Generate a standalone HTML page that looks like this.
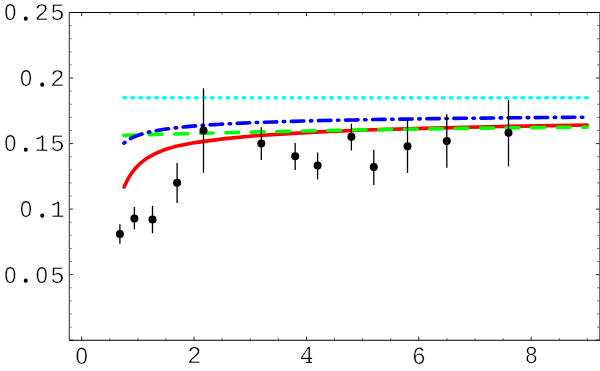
<!DOCTYPE html>
<html><head><meta charset="utf-8"><title>plot</title>
<style>html,body{margin:0;padding:0;background:#fff;}body{width:600px;height:371px;overflow:hidden;}svg{display:block;}text{font-family:"Liberation Mono",monospace;fill:#000;}</style>
</head><body>
<svg width="600" height="371" viewBox="0 0 600 371">
<rect x="0" y="0" width="600" height="371" fill="#ffffff"/>
<g fill="none" stroke-width="3.6" stroke-linecap="round" stroke-linejoin="round">
<path d="M124.1 187.01 L125.6 183.62 L127.1 180.59 L128.6 177.86 L130.1 175.41 L131.6 173.17 L133.1 171.14 L134.6 169.27 L136.1 167.56 L137.6 165.98 L139.1 164.51 L140.6 163.16 L142.1 161.89 L143.6 160.71 L145.1 159.60 L146.6 158.57 L148.1 157.59 L149.6 156.68 L151.1 155.81 L154.1 154.22 L157.1 152.79 L160.1 151.50 L163.1 150.32 L166.1 149.25 L169.1 148.26 L172.1 147.36 L175.1 146.52 L176.0 146.28 L195.0 142.60 L225.0 138.60 L255.0 135.70 L285.0 133.90 L320.0 131.90 L365.0 130.00 L422.7 128.40 L500.0 126.50 L587.1 125.00" stroke="#ff0000"/>
<path d="M123.8 135.31 L143.8 134.76 L163.8 134.22 L183.8 133.70 L203.8 133.20 L223.8 132.72 L243.8 132.26 L263.9 131.81 L283.9 131.39 L303.9 130.98 L323.9 130.59 L343.9 130.22 L363.9 129.87 L383.9 129.53 L403.9 129.21 L423.9 128.92 L443.9 128.64 L463.9 128.37 L483.9 128.13 L503.9 127.91 L523.9 127.70 L543.9 127.51 L563.9 127.34 L583.9 127.19 L587.1 127.17" stroke="#00ff00" stroke-dasharray="12.8 12.7"/>
<path d="M123.9 143.22 L125.4 141.97 L126.9 140.87 L128.4 139.89 L129.9 139.00 L131.4 138.19 L132.9 137.46 L134.4 136.78 L135.9 136.16 L137.4 135.58 L138.9 135.04 L140.4 134.53 L141.9 134.06 L143.4 133.62 L144.9 133.20 L146.4 132.81 L147.9 132.43 L149.4 132.08 L150.9 131.74 L153.9 131.12 L156.9 130.54 L159.9 130.02 L162.9 129.54 L165.9 129.09 L168.9 128.67 L171.9 128.28 L174.9 127.92 L177.9 127.58 L180.9 127.25 L183.9 126.95 L186.9 126.66 L189.9 126.39 L192.9 126.13 L195.9 125.88 L198.9 125.65 L201.9 125.42 L204.9 125.21 L207.9 125.00 L210.9 124.80 L213.9 124.61 L216.9 124.43 L219.9 124.26 L222.9 124.09 L232.9 123.57 L242.9 123.10 L252.9 122.68 L262.9 122.30 L272.9 121.95 L282.9 121.63 L292.9 121.33 L302.9 121.06 L312.9 120.80 L322.9 120.57 L332.9 120.34 L342.9 120.13 L352.9 119.93 L362.9 119.75 L372.9 119.57 L382.9 119.40 L392.9 119.24 L402.9 119.09 L412.9 118.95 L422.9 118.81 L432.9 118.67 L442.9 118.55 L452.9 118.43 L462.9 118.31 L472.9 118.20 L482.9 118.09 L492.9 117.98 L502.9 117.88 L512.9 117.79 L522.9 117.69 L532.9 117.60 L542.9 117.51 L552.9 117.43 L562.9 117.35 L572.9 117.27 L582.9 117.19 L587.1 117.16" stroke="#0000ff" stroke-dasharray="1.4 6.6 12.5 6.6"/>
<path d="M123.9 97.8 L587.1 97.8" stroke="#00ffff" stroke-dasharray="1.4 6.56"/>
</g>
<g stroke="#000" stroke-width="1.3" fill="#000">
<line x1="119.9" y1="224.3" x2="119.9" y2="243.7"/>
<line x1="134.4" y1="207.0" x2="134.4" y2="229.3"/>
<line x1="152.5" y1="205.8" x2="152.5" y2="233.3"/>
<line x1="177.1" y1="162.9" x2="177.1" y2="202.9"/>
<line x1="203.5" y1="88.3" x2="203.5" y2="172.7"/>
<line x1="261.3" y1="127.3" x2="261.3" y2="160.0"/>
<line x1="295.2" y1="143.0" x2="295.2" y2="169.9"/>
<line x1="317.6" y1="152.5" x2="317.6" y2="179.4"/>
<line x1="351.4" y1="123.7" x2="351.4" y2="150.5"/>
<line x1="373.8" y1="149.7" x2="373.8" y2="184.9"/>
<line x1="407.5" y1="119.0" x2="407.5" y2="172.9"/>
<line x1="446.8" y1="114.2" x2="446.8" y2="167.7"/>
<line x1="508.5" y1="100.0" x2="508.5" y2="166.3"/>
</g>
<g fill="#000">
<circle cx="119.9" cy="233.9" r="4.0"/>
<circle cx="134.4" cy="218.6" r="4.0"/>
<circle cx="152.5" cy="219.6" r="4.0"/>
<circle cx="177.1" cy="182.8" r="4.0"/>
<circle cx="203.5" cy="130.6" r="4.0"/>
<circle cx="261.3" cy="143.4" r="4.0"/>
<circle cx="295.2" cy="156.3" r="4.0"/>
<circle cx="317.6" cy="165.6" r="4.0"/>
<circle cx="351.4" cy="136.8" r="4.0"/>
<circle cx="373.8" cy="166.9" r="4.0"/>
<circle cx="407.5" cy="146.2" r="4.0"/>
<circle cx="446.8" cy="140.9" r="4.0"/>
<circle cx="508.5" cy="132.8" r="4.0"/>
</g>
<g stroke="#000" stroke-width="0.75" fill="none">
<line x1="81.70" y1="340.20" x2="81.70" y2="336.60" stroke-width="0.85"/>
<line x1="81.70" y1="12.50" x2="81.70" y2="16.10" stroke-width="0.85"/>
<line x1="109.79" y1="340.20" x2="109.79" y2="337.90" stroke-width="0.55"/>
<line x1="109.79" y1="12.50" x2="109.79" y2="14.80" stroke-width="0.55"/>
<line x1="137.88" y1="340.20" x2="137.88" y2="337.90" stroke-width="0.55"/>
<line x1="137.88" y1="12.50" x2="137.88" y2="14.80" stroke-width="0.55"/>
<line x1="165.97" y1="340.20" x2="165.97" y2="337.90" stroke-width="0.55"/>
<line x1="165.97" y1="12.50" x2="165.97" y2="14.80" stroke-width="0.55"/>
<line x1="194.06" y1="340.20" x2="194.06" y2="336.60" stroke-width="0.85"/>
<line x1="194.06" y1="12.50" x2="194.06" y2="16.10" stroke-width="0.85"/>
<line x1="222.15" y1="340.20" x2="222.15" y2="337.90" stroke-width="0.55"/>
<line x1="222.15" y1="12.50" x2="222.15" y2="14.80" stroke-width="0.55"/>
<line x1="250.24" y1="340.20" x2="250.24" y2="337.90" stroke-width="0.55"/>
<line x1="250.24" y1="12.50" x2="250.24" y2="14.80" stroke-width="0.55"/>
<line x1="278.33" y1="340.20" x2="278.33" y2="337.90" stroke-width="0.55"/>
<line x1="278.33" y1="12.50" x2="278.33" y2="14.80" stroke-width="0.55"/>
<line x1="306.42" y1="340.20" x2="306.42" y2="336.60" stroke-width="0.85"/>
<line x1="306.42" y1="12.50" x2="306.42" y2="16.10" stroke-width="0.85"/>
<line x1="334.51" y1="340.20" x2="334.51" y2="337.90" stroke-width="0.55"/>
<line x1="334.51" y1="12.50" x2="334.51" y2="14.80" stroke-width="0.55"/>
<line x1="362.60" y1="340.20" x2="362.60" y2="337.90" stroke-width="0.55"/>
<line x1="362.60" y1="12.50" x2="362.60" y2="14.80" stroke-width="0.55"/>
<line x1="390.69" y1="340.20" x2="390.69" y2="337.90" stroke-width="0.55"/>
<line x1="390.69" y1="12.50" x2="390.69" y2="14.80" stroke-width="0.55"/>
<line x1="418.78" y1="340.20" x2="418.78" y2="336.60" stroke-width="0.85"/>
<line x1="418.78" y1="12.50" x2="418.78" y2="16.10" stroke-width="0.85"/>
<line x1="446.87" y1="340.20" x2="446.87" y2="337.90" stroke-width="0.55"/>
<line x1="446.87" y1="12.50" x2="446.87" y2="14.80" stroke-width="0.55"/>
<line x1="474.96" y1="340.20" x2="474.96" y2="337.90" stroke-width="0.55"/>
<line x1="474.96" y1="12.50" x2="474.96" y2="14.80" stroke-width="0.55"/>
<line x1="503.05" y1="340.20" x2="503.05" y2="337.90" stroke-width="0.55"/>
<line x1="503.05" y1="12.50" x2="503.05" y2="14.80" stroke-width="0.55"/>
<line x1="531.14" y1="340.20" x2="531.14" y2="336.60" stroke-width="0.85"/>
<line x1="531.14" y1="12.50" x2="531.14" y2="16.10" stroke-width="0.85"/>
<line x1="559.23" y1="340.20" x2="559.23" y2="337.90" stroke-width="0.55"/>
<line x1="559.23" y1="12.50" x2="559.23" y2="14.80" stroke-width="0.55"/>
<line x1="587.32" y1="340.20" x2="587.32" y2="337.90" stroke-width="0.55"/>
<line x1="587.32" y1="12.50" x2="587.32" y2="14.80" stroke-width="0.55"/>
<line x1="69.40" y1="340.20" x2="73.00" y2="340.20" stroke-width="0.85"/>
<line x1="599.45" y1="340.20" x2="595.85" y2="340.20" stroke-width="0.85"/>
<line x1="69.40" y1="327.09" x2="71.70" y2="327.09" stroke-width="0.55"/>
<line x1="599.45" y1="327.09" x2="597.15" y2="327.09" stroke-width="0.55"/>
<line x1="69.40" y1="313.98" x2="71.70" y2="313.98" stroke-width="0.55"/>
<line x1="599.45" y1="313.98" x2="597.15" y2="313.98" stroke-width="0.55"/>
<line x1="69.40" y1="300.88" x2="71.70" y2="300.88" stroke-width="0.55"/>
<line x1="599.45" y1="300.88" x2="597.15" y2="300.88" stroke-width="0.55"/>
<line x1="69.40" y1="287.77" x2="71.70" y2="287.77" stroke-width="0.55"/>
<line x1="599.45" y1="287.77" x2="597.15" y2="287.77" stroke-width="0.55"/>
<line x1="69.40" y1="274.66" x2="73.00" y2="274.66" stroke-width="0.85"/>
<line x1="599.45" y1="274.66" x2="595.85" y2="274.66" stroke-width="0.85"/>
<line x1="69.40" y1="261.55" x2="71.70" y2="261.55" stroke-width="0.55"/>
<line x1="599.45" y1="261.55" x2="597.15" y2="261.55" stroke-width="0.55"/>
<line x1="69.40" y1="248.44" x2="71.70" y2="248.44" stroke-width="0.55"/>
<line x1="599.45" y1="248.44" x2="597.15" y2="248.44" stroke-width="0.55"/>
<line x1="69.40" y1="235.34" x2="71.70" y2="235.34" stroke-width="0.55"/>
<line x1="599.45" y1="235.34" x2="597.15" y2="235.34" stroke-width="0.55"/>
<line x1="69.40" y1="222.23" x2="71.70" y2="222.23" stroke-width="0.55"/>
<line x1="599.45" y1="222.23" x2="597.15" y2="222.23" stroke-width="0.55"/>
<line x1="69.40" y1="209.12" x2="73.00" y2="209.12" stroke-width="0.85"/>
<line x1="599.45" y1="209.12" x2="595.85" y2="209.12" stroke-width="0.85"/>
<line x1="69.40" y1="196.01" x2="71.70" y2="196.01" stroke-width="0.55"/>
<line x1="599.45" y1="196.01" x2="597.15" y2="196.01" stroke-width="0.55"/>
<line x1="69.40" y1="182.90" x2="71.70" y2="182.90" stroke-width="0.55"/>
<line x1="599.45" y1="182.90" x2="597.15" y2="182.90" stroke-width="0.55"/>
<line x1="69.40" y1="169.80" x2="71.70" y2="169.80" stroke-width="0.55"/>
<line x1="599.45" y1="169.80" x2="597.15" y2="169.80" stroke-width="0.55"/>
<line x1="69.40" y1="156.69" x2="71.70" y2="156.69" stroke-width="0.55"/>
<line x1="599.45" y1="156.69" x2="597.15" y2="156.69" stroke-width="0.55"/>
<line x1="69.40" y1="143.58" x2="73.00" y2="143.58" stroke-width="0.85"/>
<line x1="599.45" y1="143.58" x2="595.85" y2="143.58" stroke-width="0.85"/>
<line x1="69.40" y1="130.47" x2="71.70" y2="130.47" stroke-width="0.55"/>
<line x1="599.45" y1="130.47" x2="597.15" y2="130.47" stroke-width="0.55"/>
<line x1="69.40" y1="117.36" x2="71.70" y2="117.36" stroke-width="0.55"/>
<line x1="599.45" y1="117.36" x2="597.15" y2="117.36" stroke-width="0.55"/>
<line x1="69.40" y1="104.26" x2="71.70" y2="104.26" stroke-width="0.55"/>
<line x1="599.45" y1="104.26" x2="597.15" y2="104.26" stroke-width="0.55"/>
<line x1="69.40" y1="91.15" x2="71.70" y2="91.15" stroke-width="0.55"/>
<line x1="599.45" y1="91.15" x2="597.15" y2="91.15" stroke-width="0.55"/>
<line x1="69.40" y1="78.04" x2="73.00" y2="78.04" stroke-width="0.85"/>
<line x1="599.45" y1="78.04" x2="595.85" y2="78.04" stroke-width="0.85"/>
<line x1="69.40" y1="64.93" x2="71.70" y2="64.93" stroke-width="0.55"/>
<line x1="599.45" y1="64.93" x2="597.15" y2="64.93" stroke-width="0.55"/>
<line x1="69.40" y1="51.82" x2="71.70" y2="51.82" stroke-width="0.55"/>
<line x1="599.45" y1="51.82" x2="597.15" y2="51.82" stroke-width="0.55"/>
<line x1="69.40" y1="38.72" x2="71.70" y2="38.72" stroke-width="0.55"/>
<line x1="599.45" y1="38.72" x2="597.15" y2="38.72" stroke-width="0.55"/>
<line x1="69.40" y1="25.61" x2="71.70" y2="25.61" stroke-width="0.55"/>
<line x1="599.45" y1="25.61" x2="597.15" y2="25.61" stroke-width="0.55"/>
<line x1="69.40" y1="12.50" x2="73.00" y2="12.50" stroke-width="0.85"/>
<line x1="599.45" y1="12.50" x2="595.85" y2="12.50" stroke-width="0.85"/>
</g>
<g stroke="#000" fill="none">
<line x1="68.95" y1="12.50" x2="600.00" y2="12.50" stroke-width="1.1"/>
<line x1="68.95" y1="340.20" x2="600.00" y2="340.20" stroke-width="1.1"/>
<line x1="69.35" y1="12.50" x2="69.35" y2="340.20" stroke-width="1.2" stroke="#505050"/>
<line x1="599.45" y1="12.50" x2="599.45" y2="340.20" stroke-width="0.6"/>
</g>
<g stroke="#fff" stroke-width="0.50" text-anchor="middle" style="opacity:0.999;text-rendering:geometricPrecision">
<text transform="translate(10.20 20.20) scale(0.930 1.000)" font-size="23.3" stroke-width="0.4" style="font-family:'Liberation Sans',sans-serif">0</text>
<text x="25.75" y="18.80" font-size="5" stroke="#000" stroke-width="3.3" stroke-linejoin="round">.</text>
<text transform="translate(41.70 20.20) scale(1.000 1.000)" font-size="24.0">2</text>
<text transform="translate(57.45 20.20) scale(1.000 1.000)" font-size="24.0">5</text>
<text transform="translate(25.95 86.24) scale(0.930 1.000)" font-size="23.3" stroke-width="0.4" style="font-family:'Liberation Sans',sans-serif">0</text>
<text x="42.35" y="84.84" font-size="5" stroke="#000" stroke-width="3.3" stroke-linejoin="round">.</text>
<text transform="translate(57.45 86.24) scale(1.000 1.000)" font-size="24.0">2</text>
<text transform="translate(10.20 151.38) scale(0.930 1.000)" font-size="23.3" stroke-width="0.4" style="font-family:'Liberation Sans',sans-serif">0</text>
<text x="25.75" y="149.98" font-size="5" stroke="#000" stroke-width="3.3" stroke-linejoin="round">.</text>
<text transform="translate(41.70 151.38) scale(1.000 1.000)" font-size="24.0">1</text>
<text transform="translate(57.45 151.38) scale(1.000 1.000)" font-size="24.0">5</text>
<text transform="translate(25.95 217.32) scale(0.930 1.000)" font-size="23.3" stroke-width="0.4" style="font-family:'Liberation Sans',sans-serif">0</text>
<text x="42.35" y="215.92" font-size="5" stroke="#000" stroke-width="3.3" stroke-linejoin="round">.</text>
<text transform="translate(57.45 217.32) scale(1.000 1.000)" font-size="24.0">1</text>
<text transform="translate(10.20 282.76) scale(0.930 1.000)" font-size="23.3" stroke-width="0.4" style="font-family:'Liberation Sans',sans-serif">0</text>
<text x="25.75" y="281.36" font-size="5" stroke="#000" stroke-width="3.3" stroke-linejoin="round">.</text>
<text transform="translate(41.70 282.76) scale(0.930 1.000)" font-size="23.3" stroke-width="0.4" style="font-family:'Liberation Sans',sans-serif">0</text>
<text transform="translate(57.45 282.76) scale(1.000 1.000)" font-size="24.0">5</text>
<text transform="translate(81.80 363.50) scale(0.958 1.020)" font-size="23.3" stroke-width="0.4" style="font-family:'Liberation Sans',sans-serif">0</text>
<text transform="translate(194.35 362.95) scale(0.985 1.018)" font-size="24.0">2</text>
<text transform="translate(306.65 362.95) scale(0.945 1.028)" font-size="24.0">4</text>
<text transform="translate(418.80 363.55) scale(0.955 1.045)" font-size="24.0">6</text>
<text transform="translate(531.25 363.30) scale(0.915 1.025)" font-size="24.0">8</text>
</g>
<line x1="305.9" y1="362.45" x2="312.0" y2="362.45" stroke="#000" stroke-width="1.0"/>
</svg>
</body></html>
